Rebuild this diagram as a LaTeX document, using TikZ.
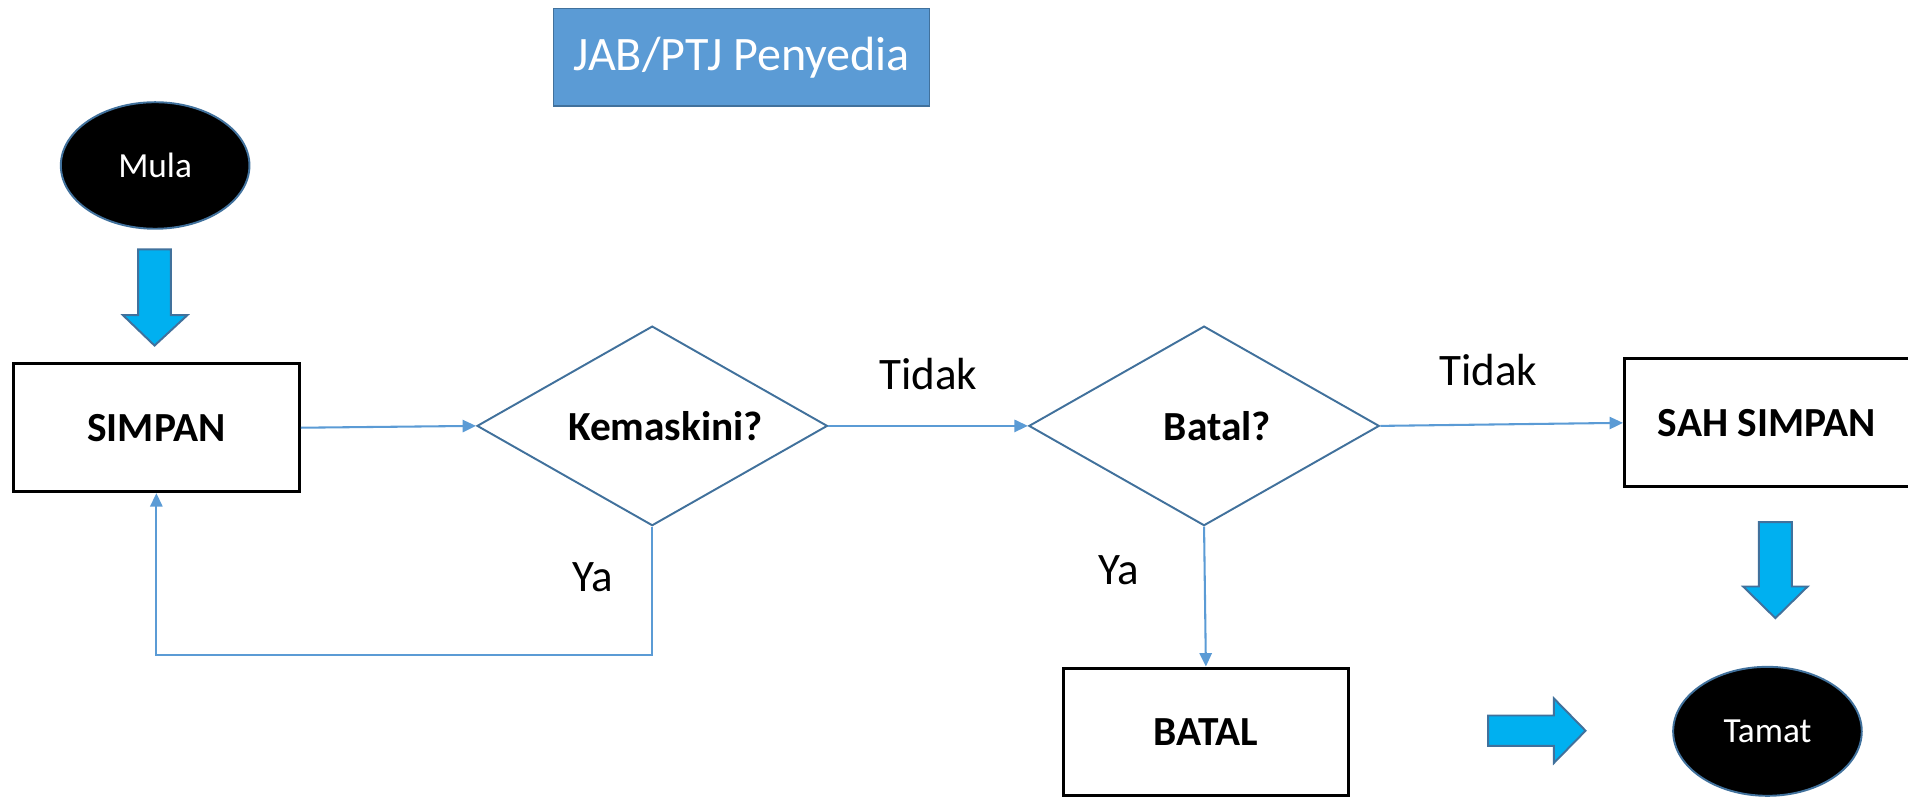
\documentclass[tikz,border=0pt]{standalone}
\usepackage{fontspec}
\setmainfont{Carlito}
\usetikzlibrary{shapes.geometric,arrows.meta}
\definecolor{linkblue}{HTML}{5B9BD5}
\definecolor{edgeblue}{HTML}{41719C}
\definecolor{fillblue}{HTML}{5B9BD5}
\definecolor{cyanfill}{HTML}{00B0F0}
\tikzset{
  procbox/.style={draw=black, line width=2.5pt, fill=white, minimum width=235pt, minimum height=105pt, inner sep=0pt, font=\fontsize{34}{40}\selectfont\bfseries},
  decbox/.style={diamond, draw=edgeblue, line width=1.6pt, minimum width=288pt, minimum height=164pt, inner sep=0pt, aspect=1.75},
  dectext/.style={font=\fontsize{34}{40}\selectfont\bfseries, inner sep=0pt},
  termbox/.style={ellipse, draw=edgeblue, line width=1.6pt, fill=black, text=white, minimum width=155pt, minimum height=104pt, inner sep=0pt, font=\fontsize{29}{34}\selectfont},
  link/.style={draw=linkblue, line width=1.7pt, -{Triangle[length=11pt,width=10pt]}},
  lbl/.style={font=\fontsize{37}{44}\selectfont, inner sep=0pt},
  blockarrow/.style={fill=cyanfill, draw=edgeblue, line width=1.6pt, line join=miter},
}
\begin{document}
\begin{tikzpicture}[x=1pt,y=-1pt]
\useasboundingbox (0,0) rectangle (1568,655);
% title
\node[draw=edgeblue, line width=1.2pt, fill=fillblue, text=white, minimum width=309pt, minimum height=80pt, inner sep=0pt, font=\fontsize{39.5}{46}\selectfont] (title) at (609.5,47) {JAB/PTJ Penyedia};
% terminals
\node[termbox] (mula) at (127.5,136) {Mula};
\node[termbox, minimum height=106pt] (tamat) at (1452.5,601) {Tamat};
% process boxes
\node[procbox] (simpan) at (128.5,351.5) {SIMPAN};
\node[procbox, minimum width=234pt] (sah) at (1452,347.5) {SAH SIMPAN};
\node[procbox, minimum width=234pt] (batal) at (991,601.5) {BATAL};
% decisions
\node[decbox] (kem) at (536,350) {};
\node[dectext] (kemt) at (547,350) {Kemaskini?};
\node[decbox] (bat) at (989.5,350) {};
\node[dectext] (batt) at (1000.5,350) {Batal?};
% connectors
\draw[link] (simpan.east) -- (kem.west);
\draw[link] (kem.east) -- (bat.west);
\draw[link] (bat.east) -- (sah.west);
\draw[link] (bat.south) -- (batal.north);
\coordinate (loopc) at (536,538);
\draw[link] (kem.south) -- (loopc) -| (simpan.south);
% labels
\node[lbl] (t1) at (763,307) {Tidak};
\node[lbl] (t2) at (1223,304) {Tidak};
\node[lbl] (y1) at (487,474) {Ya};
\node[lbl] (y2) at (919,469) {Ya};
% block arrows
\draw[blockarrow] (113.5,205) -- (140.5,205) -- (140.5,259) -- (154,259) -- (127,284) -- (101,259) -- (113.5,259) -- cycle;
\draw[blockarrow] (1445.5,429) -- (1472.5,429) -- (1472.5,482) -- (1485.5,482) -- (1459,508) -- (1432.5,482) -- (1445.5,482) -- cycle;
\draw[blockarrow] (1223,588) -- (1277,588) -- (1277,574) -- (1303,600.5) -- (1277,627) -- (1277,613) -- (1223,613) -- cycle;
\end{tikzpicture}
\end{document}
